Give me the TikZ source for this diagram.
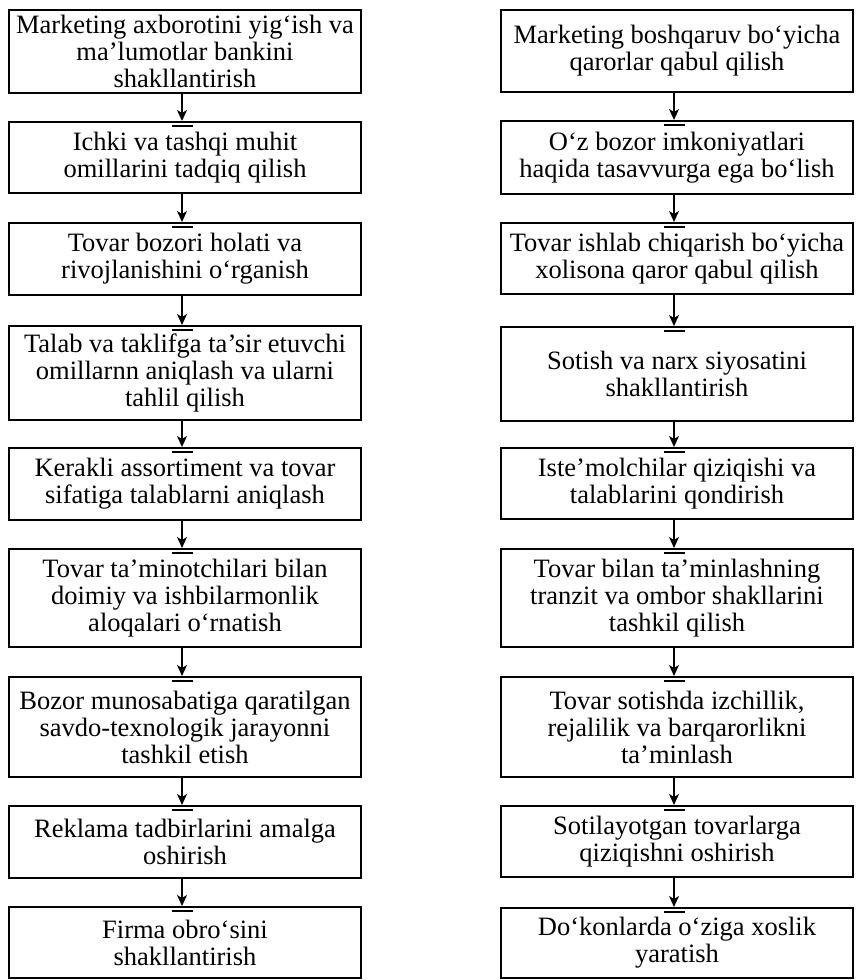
\documentclass[tikz,border=0pt]{standalone}
\usepackage{fontspec}
\setmainfont{Liberation Serif}
\usetikzlibrary{arrows.meta}
\tikzset{
  box/.style={draw=black, line width=2pt, rectangle, minimum width=352pt, inner sep=0pt,
    align=center, font=\fontsize{26.5}{27}\selectfont},
  arr/.style={line width=1.3pt, -{Stealth[length=11pt,width=10pt,inset=3pt]}},
  tickbar/.style={line width=1.4pt}
}
\begin{document}
\begin{tikzpicture}[x=1pt,y=-1pt]
\useasboundingbox[fill=white] (0,0) rectangle (855,980);
% left column
\node[box, minimum height=83pt] (L1) at (185,51.5) {Marketing axborotini yig‘ish va\\ma’lumotlar bankini\\shakllantirish};
\node[box, minimum height=71pt] (L2) at (185,157.5) {Ichki va tashqi muhit\\omillarini tadqiq qilish};
\node[box, minimum height=72pt] (L3) at (185,259) {Tovar bozori holati va\\rivojlanishini o‘rganish};
\node[box, minimum height=94pt] (L4) at (185,373) {Talab va taklifga ta’sir etuvchi\\omillarnn aniqlash va ularni\\tahlil qilish};
\node[box, minimum height=72pt] (L5) at (185,484) {Kerakli assortiment va tovar\\sifatiga talablarni aniqlash};
\node[box, minimum height=98pt] (L6) at (185,598) {Tovar ta’minotchilari bilan\\doimiy va ishbilarmonlik\\aloqalari o‘rnatish};
\node[box, minimum height=100pt] (L7) at (185,727) {Bozor munosabatiga qaratilgan\\savdo-texnologik jarayonni\\tashkil etish};
\node[box, minimum height=72pt] (L8) at (185,842) {Reklama tadbirlarini amalga\\oshirish};
\node[box, minimum height=71pt] (L9) at (185,942.5) {Firma obro‘sini\\shakllantirish};
% right column
\node[box, minimum height=82pt] (R1) at (677,51) {Marketing boshqaruv bo‘yicha\\qarorlar qabul qilish};
\node[box, minimum height=73pt] (R2) at (677,157.5) {O‘z bozor imkoniyatlari\\haqida tasavvurga ega bo‘lish};
\node[box, minimum height=71pt] (R3) at (677,258.5) {Tovar ishlab chiqarish bo‘yicha\\xolisona qaror qabul qilish};
\node[box, minimum height=94pt] (R4) at (677,374) {Sotish va narx siyosatini\\shakllantirish};
\node[box, minimum height=71pt] (R5) at (677,483.5) {Iste’molchilar qiziqishi va\\talablarini qondirish};
\node[box, minimum height=98pt] (R6) at (677,598) {Tovar bilan ta’minlashning\\tranzit va ombor shakllarini\\tashkil qilish};
\node[box, minimum height=100pt] (R7) at (677,727) {Tovar sotishda izchillik,\\rejalilik va barqarorlikni\\ta’minlash};
\node[box, minimum height=71pt] (R8) at (677,841.5) {Sotilayotgan tovarlarga\\qiziqishni oshirish};
\node[box, minimum height=70pt] (R9) at (677,943) {Do‘konlarda o‘ziga xoslik\\yaratish};
% connectors
\foreach \a/\b in {L1/L2,L2/L3,L3/L4,L4/L5,L5/L6,L6/L7,L7/L8,L8/L9,
                   R1/R2,R2/R3,R3/R4,R4/R5,R5/R6,R6/R7,R7/R8,R8/R9}{
  \draw[arr] ([xshift=-3pt]\a.south) -- ([xshift=-3pt]\b.north);
  \draw[tickbar] ([xshift=-13pt,yshift=-5pt]\b.north) -- ([xshift=8pt,yshift=-5pt]\b.north);
}
\end{tikzpicture}
\end{document}
